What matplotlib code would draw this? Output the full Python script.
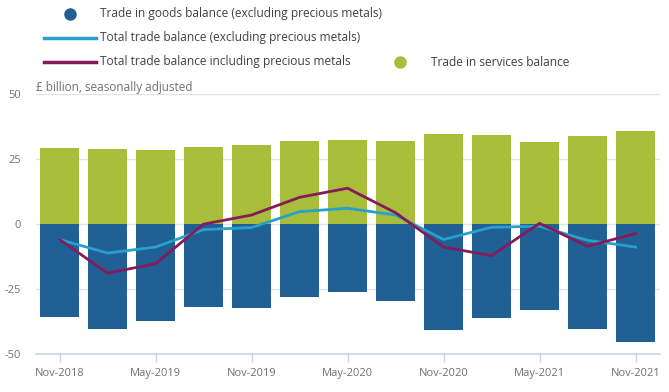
import matplotlib.pyplot as plt
from matplotlib.lines import Line2D
import numpy as np

plt.rcParams['font.family'] = ['Open Sans', 'DejaVu Sans']

periods = ['Nov-2018', 'Feb-2019', 'May-2019', 'Aug-2019', 'Nov-2019', 'Feb-2020',
           'May-2020', 'Aug-2020', 'Nov-2020', 'Feb-2021', 'May-2021', 'Aug-2021',
           'Nov-2021']
goods = [-35.7, -40.2, -37.2, -31.8, -32.2, -27.9, -26.2, -29.4, -40.7, -36.0,
         -32.9, -40.3, -45.3]
services = [29.3, 29.0, 28.6, 29.7, 30.5, 32.0, 32.4, 32.0, 34.8, 34.4, 31.7,
            34.0, 35.9]
total_excl = [-5.9, -11.1, -8.8, -2.1, -1.3, 4.8, 6.1, 3.5, -5.9, -1.2, -0.8,
              -6.2, -8.8]
total_incl = [-5.9, -18.8, -15.2, 0.0, 3.5, 10.3, 13.8, 4.4, -8.8, -12.1, 0.3,
              -8.5, -3.6]

c_goods = '#206095'
c_serv = '#a8bd3a'
c_excl = '#27a0cc'
c_incl = '#871a5b'
grey = '#707070'
txt = '#414042'

fig = plt.figure(figsize=(6.69, 3.92), dpi=100)
ax = fig.add_axes([36 / 669, 37.7 / 392, 624 / 669, 260.3 / 392])

x = np.arange(len(periods))
ax.bar(x, services, width=0.8, color=c_serv, zorder=2)
ax.bar(x, goods, width=0.8, color=c_goods, zorder=2)
ax.plot(x, total_excl, color=c_excl, lw=2.0, zorder=3)
ax.plot(x, total_incl, color=c_incl, lw=2.0, zorder=4)

ax.set_xlim(-0.49, 12.51)
ax.set_ylim(-50, 50)
ax.set_yticks([-50, -25, 0, 25, 50])
ax.set_yticklabels(['-50', '-25', '0', '25', '50'])
ax.set_xticks(x[::2])
ax.set_xticklabels(periods[::2])

for s in ['top', 'right', 'left']:
    ax.spines[s].set_visible(False)
ax.spines['bottom'].set_color('#c6d4e6')
ax.spines['bottom'].set_linewidth(1.2)
ax.grid(axis='y', color='#e3e3e3', lw=1.0, zorder=0)
ax.set_axisbelow(True)
ax.tick_params(axis='y', length=0, pad=11, labelsize=8, labelcolor=grey)
ax.tick_params(axis='x', length=6, width=1, color='#c6d4e6', pad=4,
               labelsize=8, labelcolor=grey)

fig.text(36 / 669, 1 - 87 / 392, '£ billion, seasonally adjusted', color=grey,
         fontsize=8.5, va='center', ha='left')

# legend, drawn by hand
def fy(py):
    return 1 - py / 392

fig.add_artist(Line2D([70 / 669], [fy(14)], marker='o', markersize=8,
                      color=c_goods, ls='none'))
fig.text(100 / 669, fy(14), 'Trade in goods balance (excluding precious metals)',
         color=txt, fontsize=8.6, va='center')
fig.add_artist(Line2D([44 / 669, 96 / 669], [fy(38), fy(38)], color=c_excl, lw=2.5))
fig.text(100 / 669, fy(38), 'Total trade balance (excluding precious metals)',
         color=txt, fontsize=8.6, va='center')
fig.add_artist(Line2D([44 / 669, 96 / 669], [fy(62), fy(62)], color=c_incl, lw=2.5))
fig.text(100 / 669, fy(62), 'Total trade balance including precious metals',
         color=txt, fontsize=8.6, va='center')
fig.add_artist(Line2D([400 / 669], [fy(62)], marker='o', markersize=8,
                      color=c_serv, ls='none'))
fig.text(431 / 669, fy(62), 'Trade in services balance',
         color=txt, fontsize=8.6, va='center')

plt.savefig('out.png', dpi=100)
